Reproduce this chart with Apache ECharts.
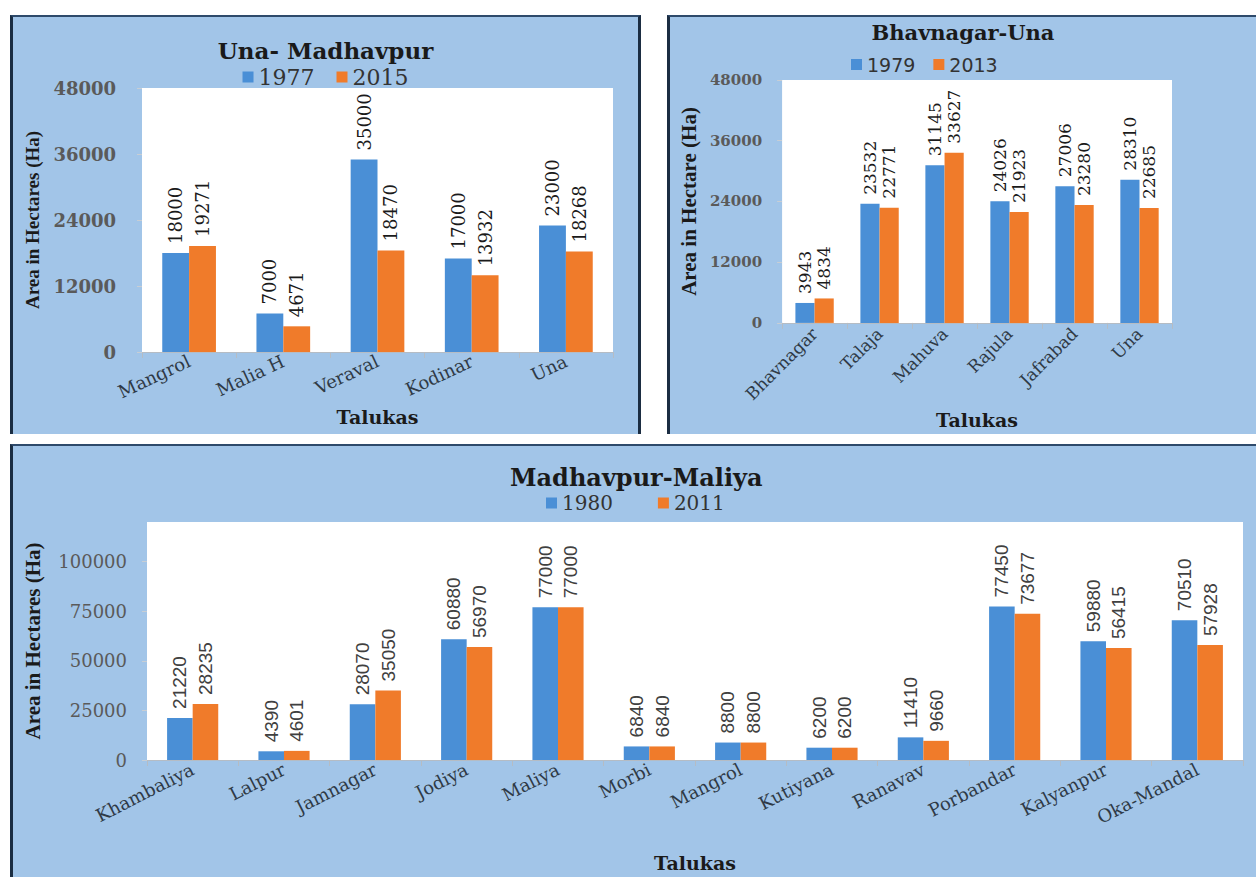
<!DOCTYPE html>
<html>
<head>
<meta charset="utf-8">
<script src="https://cdn.jsdelivr.net/npm/echarts@6/dist/echarts.min.js"></script>
<style>
  html, body { margin: 0; padding: 0; background: #ffffff; }
  body { width: 1256px; height: 877px; position: relative; overflow: hidden; }
  .panel { position: absolute; background: #a2c5e8; box-sizing: border-box; }
  #unaPanel { left: 10px; top: 15px; width: 631px; height: 419px;
    border-top: 2px solid #2e4a6b; border-left: 3px solid #1b2d42; border-right: 3px solid #1b2d42; }
  #bhavPanel { left: 667px; top: 15px; width: 589px; height: 419px;
    border-top: 2px solid #2e4a6b; border-left: 3px solid #1b2d42; }
  #maliyaPanel { left: 10px; top: 444px; width: 1246px; height: 433px;
    border-top: 2px solid #2e4a6b; border-left: 3px solid #1b2d42; }
  .chart { position: absolute; left: 0; top: 0; right: 0; bottom: 0; }
</style>
</head>
<body>
<div class="panel" id="unaPanel"><div class="chart" id="unaChart"></div></div>
<div class="panel" id="bhavPanel"><div class="chart" id="bhavChart"></div></div>
<div class="panel" id="maliyaPanel"><div class="chart" id="maliyaChart"></div></div>
<script>
// Una - Madhavpur coast
const unaTalukas = ['Mangrol', 'Malia H', 'Veraval', 'Kodinar', 'Una'];
const una1977 = [18000, 7000, 35000, 17000, 23000];
const una2015 = [19271, 4671, 18470, 13932, 18268];
const unaTicks = [0, 12000, 24000, 36000, 48000];

// Bhavnagar - Una coast
const bhavTalukas = ['Bhavnagar', 'Talaja', 'Mahuva', 'Rajula', 'Jafrabad', 'Una'];
const bhav1979 = [3943, 23532, 31145, 24026, 27006, 28310];
const bhav2013 = [4834, 22771, 33627, 21923, 23280, 22685];
const bhavTicks = [0, 12000, 24000, 36000, 48000];

// Madhavpur - Maliya coast
const maliyaTalukas = ['Khambaliya', 'Lalpur', 'Jamnagar', 'Jodiya', 'Maliya', 'Morbi',
  'Mangrol', 'Kutiyana', 'Ranavav', 'Porbandar', 'Kalyanpur', 'Oka-Mandal'];
const maliya1980 = [21220, 4390, 28070, 60880, 77000, 6840, 8800, 6200, 11410, 77450, 59880, 70510];
const maliya2011 = [28235, 4601, 35050, 56970, 77000, 6840, 8800, 6200, 9660, 73677, 56415, 57928];
const maliyaTicks = [0, 25000, 50000, 75000, 100000];

const BLUE = '#4a8fd6';
const ORANGE = '#f07b2a';
const NARROW_SERIF = 'Liberation Serif';
const SERIF = 'DejaVu Serif';

function barSeries(name, data, color, label, gapPct) {
  return {
    name: name,
    type: 'bar',
    data: data,
    barGap: '0%',
    barCategoryGap: gapPct,
    itemStyle: { color: color },
    label: Object.assign({
      show: true,
      position: 'top',
      rotate: 90,
      align: 'left',
      verticalAlign: 'middle',
      distance: 9
    }, label)
  };
}

function buildOption(cfg) {
  return {
    animation: false,
    title: {
      text: cfg.title,
      left: cfg.titleLeft,
      top: cfg.titleTop,
      textStyle: { fontFamily: SERIF, fontWeight: 'bold', fontSize: cfg.titleSize, color: '#1a1a1a' }
    },
    legend: {
      data: cfg.names,
      left: cfg.legendLeft,
      top: cfg.legendTop,
      icon: 'rect',
      itemWidth: 11,
      itemHeight: 11,
      itemGap: cfg.legendGap,
      textStyle: cfg.legendText
    },
    grid: {
      left: cfg.grid[0], top: cfg.grid[1], right: cfg.grid[2], bottom: cfg.grid[3],
      show: true, backgroundColor: '#ffffff', borderWidth: 0
    },
    xAxis: {
      type: 'category',
      data: cfg.categories,
      name: 'Talukas',
      nameLocation: 'middle',
      nameGap: cfg.xNameGap,
      nameTextStyle: { fontFamily: SERIF, fontWeight: 'bold', fontSize: 19, color: '#1a1a1a' },
      axisLine: { lineStyle: { color: '#b5bcc4', width: 1 } },
      axisTick: { show: true, length: 6, lineStyle: { color: '#b5bcc4' } },
      axisLabel: Object.assign({ interval: 0, margin: 8, color: '#2f3a46' }, cfg.xLabel)
    },
    yAxis: {
      type: 'value',
      min: 0,
      max: cfg.yMax,
      interval: cfg.yStep,
      name: cfg.yName,
      nameLocation: 'middle',
      nameGap: cfg.yNameGap,
      nameTextStyle: { fontFamily: NARROW_SERIF, fontWeight: 'bold', fontSize: cfg.yNameSize, color: '#1a1a1a' },
      splitLine: { show: false },
      axisLine: { show: false },
      axisTick: { show: true, length: 5, lineStyle: { color: '#c8ced4' }, customValues: cfg.ticks },
      axisLabel: {
        color: '#5a5a5a',
        margin: cfg.yLabelMargin,
        customValues: cfg.ticks,
        fontFamily: SERIF,
        fontWeight: cfg.yLabelWeight,
        fontSize: cfg.yLabelSize,
        formatter: function (v) { return String(v); }
      }
    },
    series: [
      barSeries(cfg.names[0], cfg.a, BLUE, cfg.valueLabel, cfg.catGap),
      barSeries(cfg.names[1], cfg.b, ORANGE, cfg.valueLabel, cfg.catGap)
    ]
  };
}

const unaChart = echarts.init(document.getElementById('unaChart'), null, { renderer: 'svg' });
unaChart.setOption(buildOption({
  title: 'Una- Madhavpur', titleLeft: 'center', titleTop: 17, titleSize: 23,
  names: ['1977', '2015'], legendLeft: 'center', legendTop: 44, legendGap: 22,
  legendText: { fontFamily: SERIF, fontSize: 22, color: '#333333' },
  grid: [129, 71, 25, 82],
  categories: unaTalukas, a: una1977, b: una2015, catGap: '43%',
  xNameGap: 50,
  xLabel: { rotate: 25, fontFamily: SERIF, fontSize: 18 },
  yMax: 48000, yStep: 12000, ticks: unaTicks,
  yName: 'Area in Hectares (Ha)', yNameGap: 97, yNameSize: 19,
  yLabelMargin: 26, yLabelWeight: 'bold', yLabelSize: 18,
  valueLabel: { fontFamily: SERIF, fontSize: 18, color: '#1a1a1a' }
}));

const bhavChart = echarts.init(document.getElementById('bhavChart'), null, { renderer: 'svg' });
bhavChart.setOption(buildOption({
  title: 'Bhavnagar-Una', titleLeft: 'center', titleTop: 0, titleSize: 21,
  names: ['1979', '2013'], legendLeft: 176, legendTop: 33, legendGap: 18,
  legendText: { fontFamily: 'DejaVu Sans', fontSize: 19, color: '#333333' },
  grid: [108, 63, 84, 108],
  categories: bhavTalukas, a: bhav1979, b: bhav2013, catGap: '41%',
  xNameGap: 82,
  xLabel: { rotate: 45, fontFamily: SERIF, fontSize: 17 },
  yMax: 48000, yStep: 12000, ticks: bhavTicks,
  yName: 'Area in Hectare (Ha)', yNameGap: 77, yNameSize: 21,
  yLabelMargin: 20, yLabelWeight: 'bold', yLabelSize: 15,
  valueLabel: { fontFamily: SERIF, fontSize: 17, color: '#1a1a1a' }
}));

const maliyaChart = echarts.init(document.getElementById('maliyaChart'), null, { renderer: 'svg' });
maliyaChart.setOption(buildOption({
  title: 'Madhavpur-Maliya', titleLeft: 492, titleTop: 14, titleSize: 24,
  names: ['1980', '2011'], legendLeft: 528, legendTop: 42, legendGap: 45,
  legendText: { fontFamily: SERIF, fontSize: 20, color: '#333333' },
  grid: [134, 76, 13, 113],
  categories: maliyaTalukas, a: maliya1980, b: maliya2011, catGap: '44%',
  xNameGap: 93,
  xLabel: { rotate: 27, fontFamily: SERIF, fontSize: 18 },
  yMax: 120000, yStep: 25000, ticks: maliyaTicks,
  yName: 'Area in Hectares (Ha)', yNameGap: 104, yNameSize: 21,
  yLabelMargin: 20, yLabelWeight: 'normal', yLabelSize: 18,
  valueLabel: { fontFamily: 'Liberation Sans', fontSize: 19, color: '#404040' }
}));
</script>
</body>
</html>
